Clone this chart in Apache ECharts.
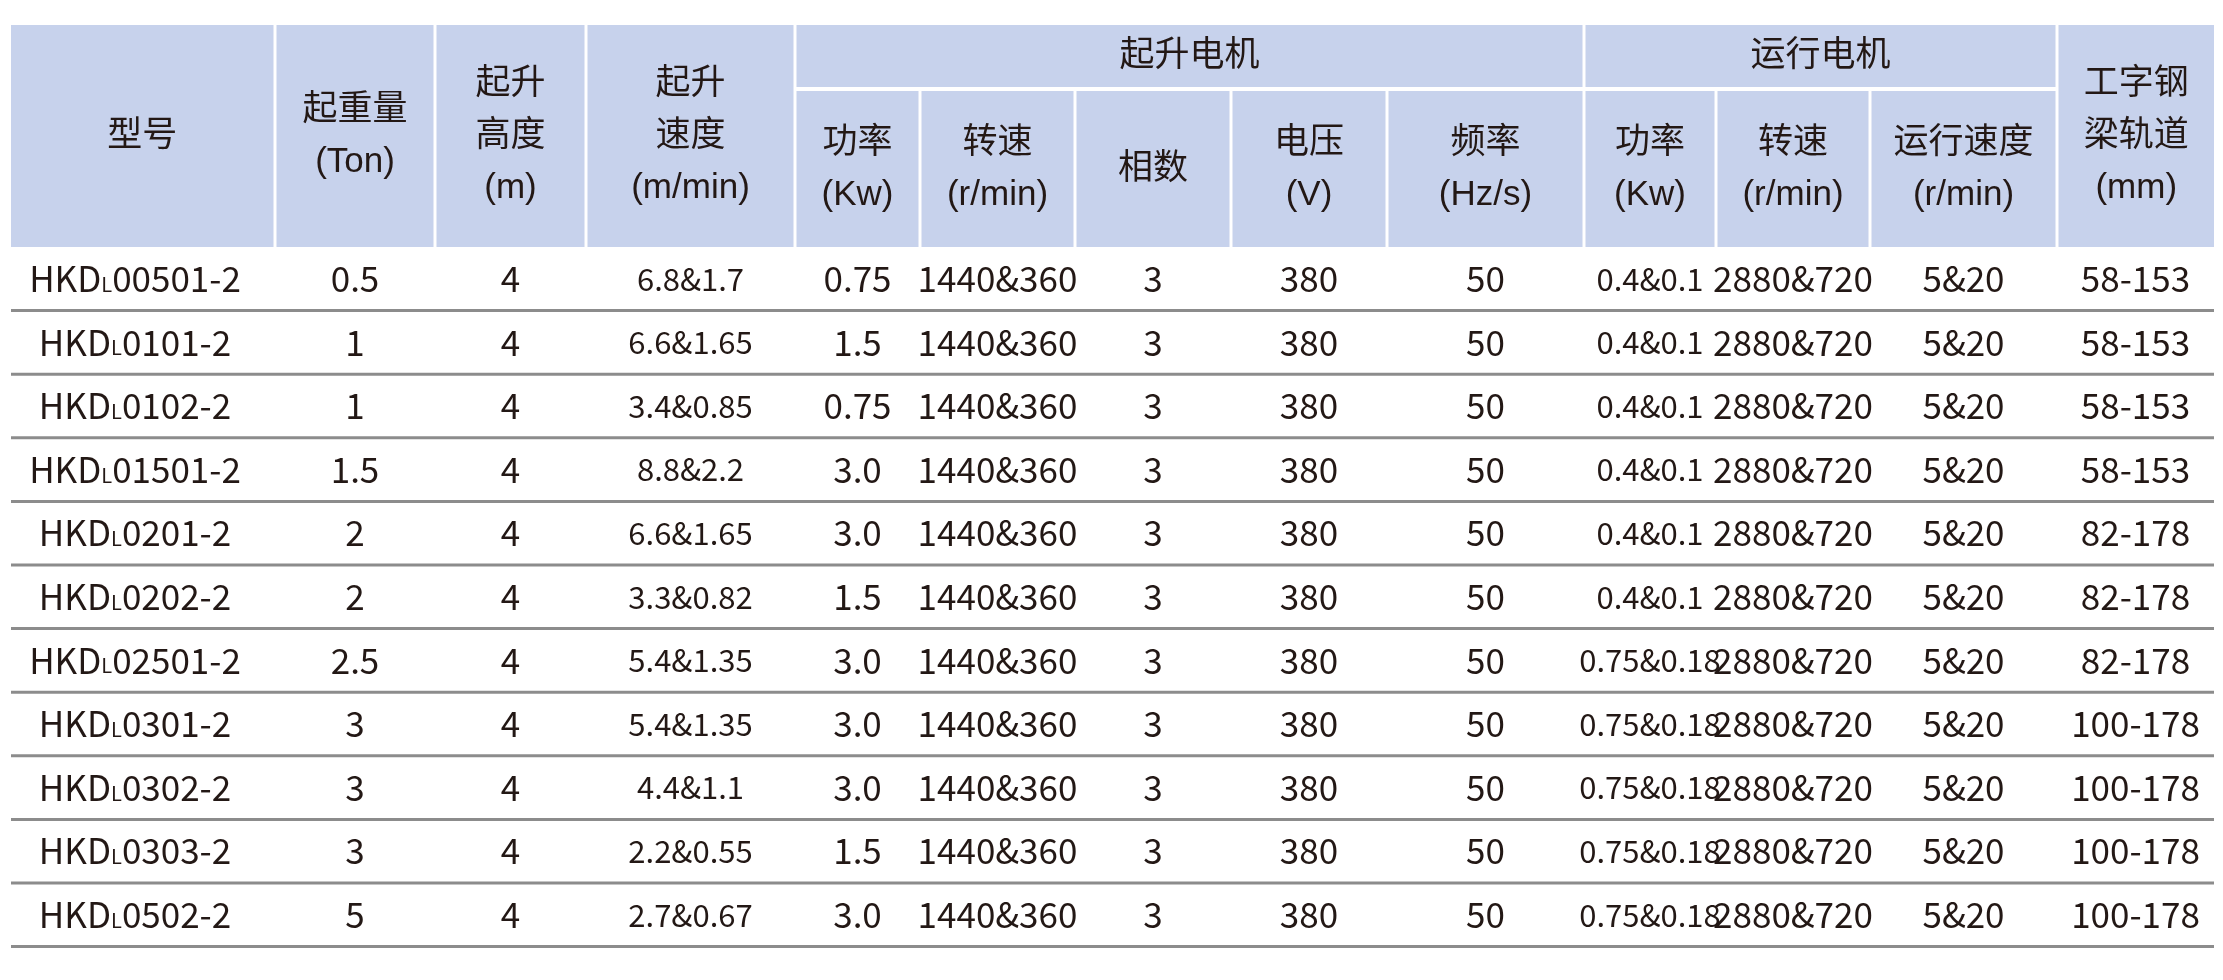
<!DOCTYPE html>
<html><head><meta charset="utf-8">
<script src="https://cdn.jsdelivr.net/npm/echarts@6/dist/echarts.min.js"></script>
<style>html,body{margin:0;padding:0;background:#fff}#c{width:2223px;height:980px}</style>
</head><body><div id="c"></div>
<script>
const models = ['00501-2','0101-2','0102-2','01501-2','0201-2','0202-2','02501-2','0301-2','0302-2','0303-2','0502-2'];
const capacity = ['0.5','1','1','1.5','2','2','2.5','3','3','3','5'];
const liftHeight = ['4','4','4','4','4','4','4','4','4','4','4'];
const liftSpeed = ['6.8&1.7','6.6&1.65','3.4&0.85','8.8&2.2','6.6&1.65','3.3&0.82','5.4&1.35','5.4&1.35','4.4&1.1','2.2&0.55','2.7&0.67'];
const liftPower = ['0.75','1.5','0.75','3.0','3.0','1.5','3.0','3.0','3.0','1.5','3.0'];
const liftRpm = Array(11).fill('1440&360');
const phases = Array(11).fill('3');
const voltage = Array(11).fill('380');
const freq = Array(11).fill('50');
const travelPower = ['0.4&0.1','0.4&0.1','0.4&0.1','0.4&0.1','0.4&0.1','0.4&0.1','0.75&0.18','0.75&0.18','0.75&0.18','0.75&0.18','0.75&0.18'];
const travelRpm = Array(11).fill('2880&720');
const travelSpeed = Array(11).fill('5&20');
const beam = ['58-153','58-153','58-153','58-153','82-178','82-178','82-178','100-178','100-178','100-178','100-178'];
const columns = [models,capacity,liftHeight,liftSpeed,liftPower,liftRpm,phases,voltage,freq,travelPower,travelRpm,travelSpeed,beam];
// header cells: [text lines, colStart, colEnd, rowStart(0/1), rowEnd(0/1)]
const headers = [
 [['型号'],0,0,0,1],[['起重量','(Ton)'],1,1,0,1],[['起升','高度','(m)'],2,2,0,1],[['起升','速度','(m/min)'],3,3,0,1],
 [['起升电机'],4,8,0,0],[['运行电机'],9,11,0,0],[['工字钢','梁轨道','(mm)'],12,12,0,1],
 [['功率','(Kw)'],4,4,1,1],[['转速','(r/min)'],5,5,1,1],[['相数'],6,6,1,1],[['电压','(V)'],7,7,1,1],[['频率','(Hz/s)'],8,8,1,1],
 [['功率','(Kw)'],9,9,1,1],[['转速','(r/min)'],10,10,1,1],[['运行速度','(r/min)'],11,11,1,1]
];
// layout
const colEdges = [11,275,435,586,795,920,1075,1231,1387,1584,1716,1870,2057,2214];
const hTop = 25, hMid = 89, hBot = 247, rowH = 63.6;
const smallCols = {3:true,9:true};
const FONT = "'Liberation Sans Narrow','Noto Sans CJK SC',sans-serif";

const chart = echarts.init(document.getElementById('c'));
const bodyData = [];
columns.forEach((arr,c)=>arr.forEach((v,r)=>bodyData.push([c,r,v])));
chart.setOption({
  animation:false,
  series:[
   {type:'custom',coordinateSystem:'none',data:headers.map((h,i)=>[i]),
    renderItem:function(p,api){
      const h = headers[api.value(0)];
      const x0 = colEdges[h[1]]+(h[1]===0?0:1.5), x1 = colEdges[h[2]+1]-(h[2]===12?0:1.5);
      const ys=[hTop,hMid,hBot];
      const y0 = ys[h[3]]+(h[3]===1?2:0), y1 = ys[h[4]+1]-(h[4]===0?2:0);
      const lh=52, n=h[0].length, cy=(y0+y1)/2;
      const kids=[{type:'rect',shape:{x:x0,y:y0,width:x1-x0,height:y1-y0},style:{fill:'#c7d2ec'}}];
      h[0].forEach((t,k)=>kids.push({type:'text',style:{text:t,x:(x0+x1)/2,y:cy+(k-(n-1)/2)*lh,align:'center',verticalAlign:'middle',
        fill:'#231815',font:"35px 'Liberation Sans','Noto Sans CJK SC',sans-serif"}}));
      return {type:'group',children:kids};
    }},
   {type:'custom',coordinateSystem:'none',data:bodyData,
    renderItem:function(p,api){
      const c=api.value(0), r=api.value(1), v=bodyData[p.dataIndex][2];
      const y0=hBot+r*rowH, cx=(colEdges[c]+colEdges[c+1])/2+(c===0?-8:0);
      const kids=[];
      const fs = smallCols[c]?31:35;
      if(c===0){
        kids.push({type:'text',style:{text:'{a|HKD}{s|L}{a|'+v+'}',x:cx,y:y0+rowH/2,align:'center',verticalAlign:'middle',
          rich:{a:{fontSize:35,fontFamily:FONT,fill:'#231815',verticalAlign:'bottom'},s:{fontSize:20,fontFamily:FONT,fill:'#231815',verticalAlign:'bottom',padding:[0,0,2,0]}}}});
        kids.push({type:'rect',shape:{x:colEdges[0],y:y0+rowH-1.5,width:colEdges[13]-colEdges[0],height:3},style:{fill:'#8c8c8c'}});
      } else {
        kids.push({type:'text',style:{text:v,x:cx,y:y0+rowH/2,align:'center',verticalAlign:'middle',fill:'#231815',font:fs+'px '+FONT}});
      }
      return {type:'group',children:kids};
    }}
  ]
});
</script></body></html>
